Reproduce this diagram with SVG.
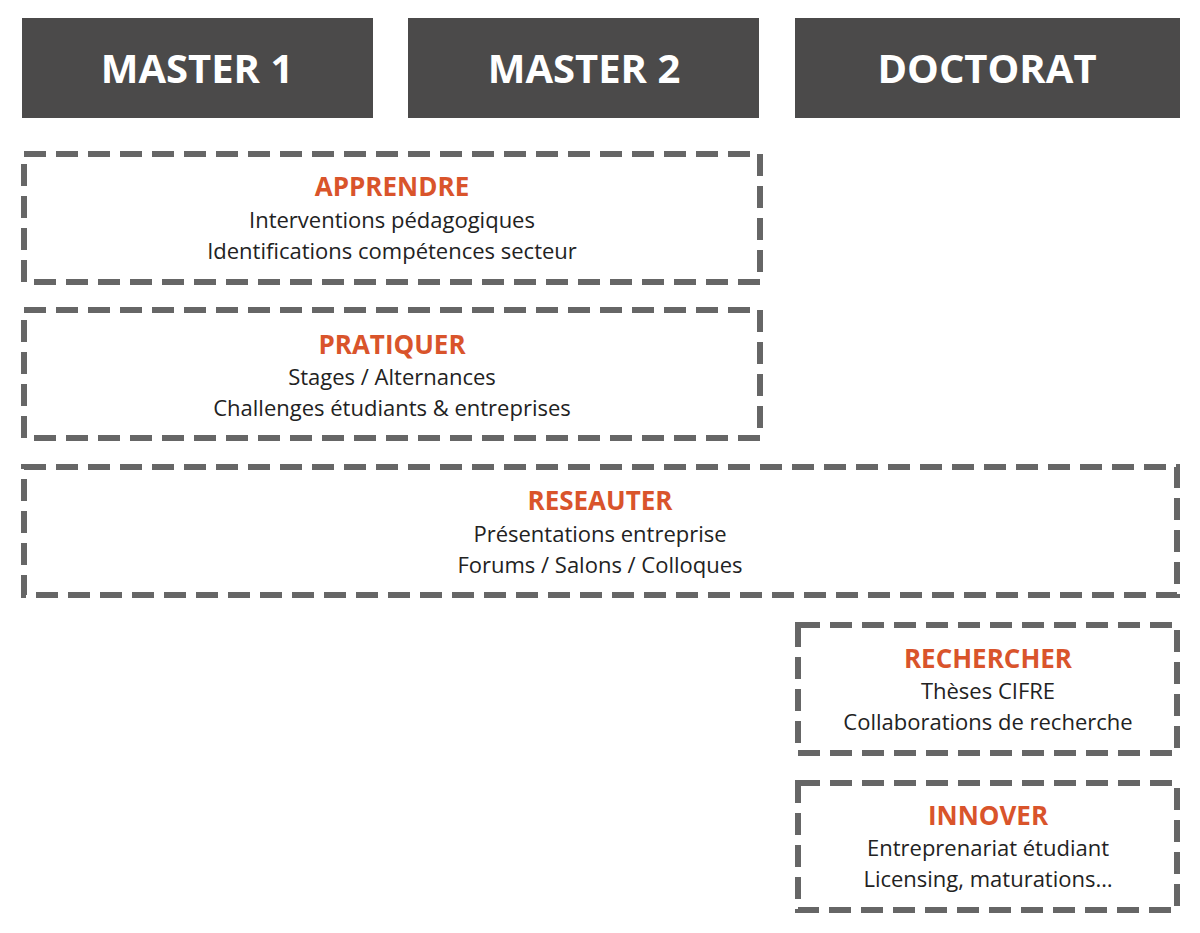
<svg xmlns="http://www.w3.org/2000/svg" width="1200" height="933" viewBox="0 0 1200 933">
<style>
.hd{fill:#4b4a4a}
.ht{fill:#fff;font-family:"Open Sans",sans-serif;font-weight:bold;font-size:40px;text-anchor:middle}
.bx{fill:none;stroke:#666;stroke-width:6;stroke-dasharray:22 10}
.t{fill:#d9542b;font-family:"Open Sans",sans-serif;font-weight:bold;font-size:26px;text-anchor:middle}
.b{fill:#222;font-family:"Open Sans",sans-serif;font-size:22px;text-anchor:middle}
</style>
<rect width="1200" height="933" fill="#fff"/>
<g id="master1"><rect class="hd" x="22" y="18" width="351" height="100"/><text class="ht" x="197" y="83">MASTER 1</text></g>
<g id="master2"><rect class="hd" x="408" y="18" width="351" height="100"/><text class="ht" x="584" y="83">MASTER 2</text></g>
<g id="doctorat"><rect class="hd" x="795" y="18" width="385" height="100"/><text class="ht" x="987" y="83">DOCTORAT</text></g>
<g id="apprendre"><rect class="bx" x="24" y="154" width="736" height="128"/>
<text class="t" x="392" y="196">APPRENDRE</text><text class="b" x="392" y="228">Interventions pédagogiques</text><text class="b" x="392" y="259">Identifications compétences secteur</text></g>
<g id="pratiquer"><rect class="bx" x="24" y="310" width="736" height="128"/>
<text class="t" x="392" y="354">PRATIQUER</text><text class="b" x="392" y="385">Stages / Alternances</text><text class="b" x="392" y="416">Challenges étudiants &amp; entreprises</text></g>
<g id="reseauter"><rect class="bx" x="24" y="467" width="1153" height="128"/>
<text class="t" x="600" y="510">RESEAUTER</text><text class="b" x="600" y="542">Présentations entreprise</text><text class="b" x="600" y="573">Forums / Salons / Colloques</text></g>
<g id="rechercher"><rect class="bx" x="798" y="625" width="379" height="128"/>
<text class="t" x="988" y="668">RECHERCHER</text><text class="b" x="988" y="699">Thèses CIFRE</text><text class="b" x="988" y="730">Collaborations de recherche</text></g>
<g id="innover"><rect class="bx" x="798" y="783" width="379" height="127"/>
<text class="t" x="988" y="825">INNOVER</text><text class="b" x="988" y="856">Entreprenariat étudiant</text><text class="b" x="988" y="887">Licensing, maturations…</text></g>
<g id="connectors"/>
</svg>
